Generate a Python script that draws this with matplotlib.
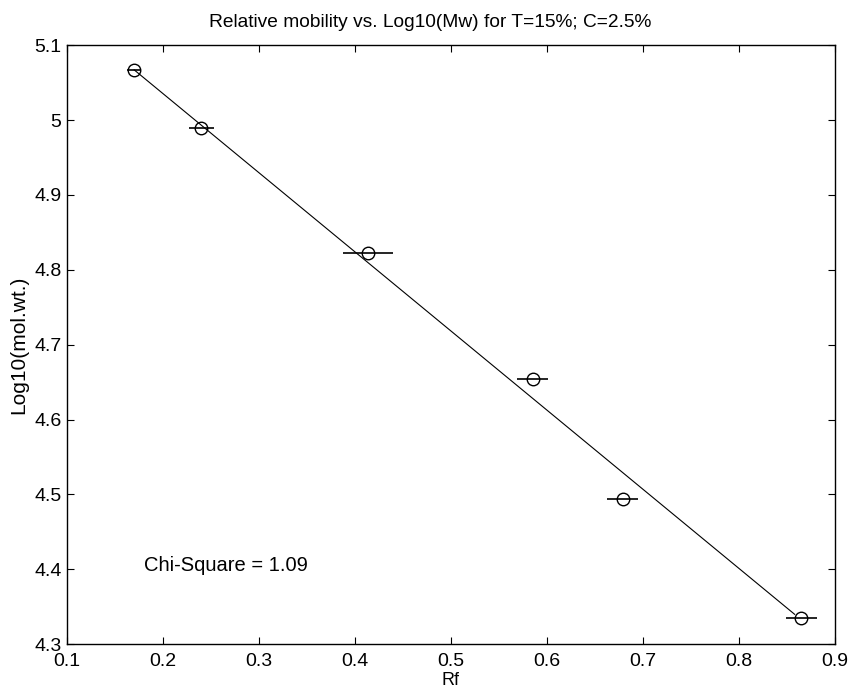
import numpy as np
import matplotlib
matplotlib.use('Agg')
import matplotlib.pyplot as plt

# values
rf = [0.170, 0.240, 0.414, 0.585, 0.679, 0.865]
log_mw = [5.067, 4.989, 4.823, 4.654, 4.4935, 4.335]
rf_err = [0.007, 0.013, 0.026, 0.016, 0.016, 0.016]

fit_rf = [0.170, 0.858]
fit_log_mw = [5.067, 4.340]

xticks = [0.1, 0.2, 0.3, 0.4, 0.5, 0.6, 0.7, 0.8, 0.9]
yticks = [4.3, 4.4, 4.5, 4.6, 4.7, 4.8, 4.9, 5.0, 5.1]
ytick_labels = ['4.3', '4.4', '4.5', '4.6', '4.7', '4.8', '4.9', '5', '5.1']

plt.rcParams['font.family'] = ['Liberation Sans', 'DejaVu Sans']

fig = plt.figure(figsize=(8.59, 6.95), dpi=100)
ax = fig.add_axes([0.078, 0.073, 0.894, 0.862])

ax.plot(fit_rf, fit_log_mw, color='black', linewidth=0.8)
ax.errorbar(rf, log_mw, xerr=rf_err, fmt='o', mfc='none', mec='black',
            ecolor='black', elinewidth=1.2, capsize=0, markersize=9,
            markeredgewidth=1.0)

ax.text(0.18, 4.405, 'Chi-Square = 1.09', fontsize=14.5, va='center', ha='left')

ax.set_xlim(0.1, 0.9)
ax.set_ylim(4.3, 5.1)
ax.set_xticks(xticks)
ax.set_xticklabels([f'{v:g}' for v in xticks])
ax.set_yticks(yticks)
ax.set_yticklabels(ytick_labels)
ax.tick_params(direction='in', top=True, right=True, length=5, width=0.8,
               labelsize=14)
ax.tick_params(axis='x', pad=6)
ax.tick_params(axis='y', pad=4)
for s in ax.spines.values():
    s.set_linewidth(1.0)

ax.set_title('Relative mobility vs. Log10(Mw) for T=15%; C=2.5%', fontsize=13.8,
             x=0.473, pad=13)
ax.set_xlabel('Rf', fontsize=13, labelpad=2)
ax.set_ylabel('Log10(mol.wt.)', fontsize=15, labelpad=4)

fig.savefig('out.png', dpi=100)
